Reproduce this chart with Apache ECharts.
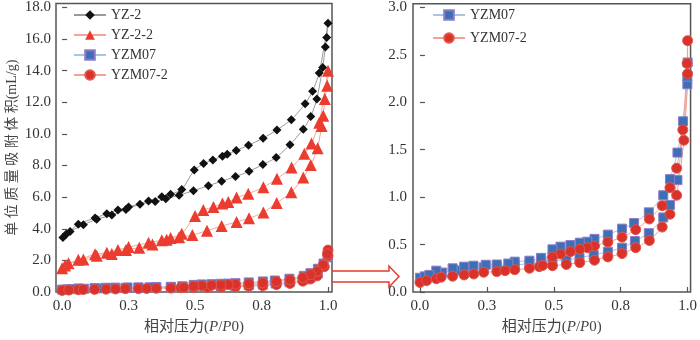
<!DOCTYPE html>
<html lang="zh-cn">
<head>
<meta charset="utf-8">
<title>吸附曲线</title>
<script src="https://cdn.jsdelivr.net/npm/echarts@6/dist/echarts.min.js"></script>
<style>
  html, body { margin: 0; padding: 0; background: #fff; }
  #chart { width: 700px; height: 340px; }
</style>
</head>
<body>
<div id="chart"></div>
<script>
// 数据：[P/P0, 体积]，吸附支在前，脱附支在后
var yz2 = [
  [0.003,3.45],[0.03,3.83],[0.08,4.25],[0.13,4.6],[0.187,4.87],[0.24,5.22],[0.293,5.55],
  [0.35,5.72],[0.39,5.9],[0.44,6.12],[0.494,6.41],[0.55,6.72],[0.6,7.01],[0.652,7.3],
  [0.703,7.63],[0.755,8.06],[0.805,8.5],[0.857,9.32],[0.907,10.3],[0.935,11.1],[0.958,12.2],
  [0.98,14.2],[0.99,15.5],[0.995,16.1],[1.0,17.0],
  [0.967,13.85],[0.942,12.7],[0.914,11.9],[0.862,10.9],[0.808,10.25],[0.756,9.73],[0.701,9.28],
  [0.655,8.95],[0.621,8.72],[0.603,8.58],[0.567,8.35],[0.532,8.12],[0.497,7.71],[0.45,6.48],
  [0.408,6.18],[0.375,6.02],[0.325,5.76],[0.25,5.38],[0.21,5.18],[0.168,4.95],[0.124,4.68],
  [0.061,4.29],[0.015,3.65]
];
var yz22 = [
  [0.0,1.5],[0.024,1.82],[0.08,2.05],[0.13,2.3],[0.187,2.4],[0.24,2.66],[0.29,2.8],[0.34,3.01],
  [0.393,3.3],[0.44,3.46],[0.49,3.6],[0.545,3.88],[0.6,4.17],[0.656,4.43],[0.703,4.66],
  [0.757,5.03],[0.807,5.63],[0.862,6.31],[0.907,7.24],[0.935,8.04],[0.961,9.1],[0.976,10.5],
  [0.982,11.15],[0.988,12.2],[0.997,13.05],[1.0,14.0],
  [0.967,10.7],[0.938,9.4],[0.911,8.75],[0.863,7.88],[0.808,7.16],[0.757,6.62],[0.70,6.22],
  [0.656,5.97],[0.625,5.69],[0.603,5.6],[0.569,5.38],[0.531,5.18],[0.5,4.8],[0.45,3.68],
  [0.408,3.42],[0.375,3.28],[0.325,3.11],[0.25,2.84],[0.21,2.66],[0.168,2.49],[0.124,2.38],
  [0.061,2.04],[0.011,1.67]
];
var yzm07 = [
  [0.0,0.15],[0.018,0.165],[0.083,0.205],[0.134,0.228],[0.177,0.242],[0.238,0.26],[0.287,0.27],
  [0.354,0.285],[0.409,0.3],[0.454,0.33],[0.495,0.33],[0.547,0.335],[0.596,0.363],[0.649,0.39],
  [0.702,0.425],[0.755,0.467],[0.803,0.537],[0.855,0.62],[0.909,0.786],[0.934,0.917],
  [0.962,1.18],[0.999,2.19],[1.0,2.42],
  [0.999,2.27],[0.983,1.8],[0.962,1.47],[0.934,1.19],[0.909,1.02],[0.855,0.84],[0.80,0.727],
  [0.755,0.668],[0.702,0.605],[0.652,0.56],[0.625,0.53],[0.597,0.52],[0.562,0.495],[0.525,0.478],
  [0.495,0.45],[0.452,0.36],[0.409,0.33],[0.354,0.32],[0.33,0.30],[0.287,0.29],[0.246,0.287],
  [0.2,0.277],[0.165,0.267],[0.122,0.25],[0.061,0.225],[0.035,0.18]
];
var yzm072 = [
  [0.0,0.10],[0.025,0.12],[0.061,0.14],[0.079,0.156],[0.122,0.166],[0.165,0.18],[0.201,0.19],
  [0.238,0.208],[0.287,0.215],[0.318,0.225],[0.354,0.235],[0.409,0.25],[0.446,0.267],
  [0.495,0.277],[0.547,0.29],[0.597,0.31],[0.652,0.335],[0.702,0.37],[0.755,0.405],[0.806,0.467],
  [0.857,0.543],[0.905,0.685],[0.934,0.82],[0.959,1.02],[0.986,1.6],[1.0,2.3],[1.0,2.65],
  [0.998,2.41],[0.982,1.71],[0.959,1.305],[0.934,1.1],[0.905,0.91],[0.857,0.77],[0.806,0.657],
  [0.755,0.578],[0.702,0.526],[0.652,0.485],[0.625,0.467],[0.597,0.45],[0.562,0.425],
  [0.525,0.40],[0.495,0.37],[0.458,0.28]
];
var xTicks = [0, 0.25, 0.5, 0.75, 1];
var yTicksL = [0, 2, 4, 6, 8, 10, 12, 14, 16, 18];
var yTicksR = [0, 0.5, 1, 1.5, 2, 2.5, 3];

var serif = "'Liberation Serif', 'Noto Sans CJK SC', serif";
var labelStyle = { fontFamily: serif, fontSize: 15, color: '#333' };
var tickStyle = { inside: true, length: 5, lineStyle: { color: '#555', width: 1.2 } };

function xAxisOf(idx, min, max) {
  return {
    type: 'value', gridIndex: idx, min: min, max: max,
    name: '相对压力({i|P}/{i|P}0)', nameLocation: 'middle', nameGap: 28,
    nameTextStyle: { fontFamily: serif, fontSize: 15, color: '#444',
      rich: { i: { fontFamily: serif, fontSize: 15, fontStyle: 'italic', color: '#444' } } },
    axisLine: { show: false },
    axisTick: Object.assign({ customValues: xTicks }, tickStyle),
    axisLabel: Object.assign({ customValues: xTicks, margin: 7,
      formatter: function (v) { return v.toFixed(1); } }, labelStyle),
    splitLine: { show: false }
  };
}

var blueStyle = { color: '#3b70b6', borderColor: '#8f7cc8', borderWidth: 1 };
var redStyle = { color: '#d8322a', borderColor: '#e0574c', borderWidth: 1 };

function mk(name, data, idx, sym, size, item, lineColor) {
  return {
    name: name, type: 'line', data: data, xAxisIndex: idx, yAxisIndex: idx,
    symbol: sym, symbolSize: size, showAllSymbol: true, smooth: 0.2,
    itemStyle: item, lineStyle: { color: lineColor, width: 1 }, animation: false
  };
}

var chart = echarts.init(document.getElementById('chart'));
var option = {
  backgroundColor: '#fff',
  grid: [
    { left: 56, right: 368, top: 2, bottom: 42, show: true, borderColor: '#555', borderWidth: 1.5 },
    { left: 413, right: 4, top: 2, bottom: 45, show: true, borderColor: '#555', borderWidth: 1.5 }
  ],
  legend: [
    { left: 73, top: 8, padding: 0, orient: 'vertical', itemWidth: 32, itemHeight: 12, itemGap: 6,
      textStyle: { fontFamily: serif, fontSize: 14, color: '#333' },
      data: ['YZ-2', 'YZ-2-2', 'YZM07', 'YZM07-2'] },
    { left: 432, top: 8, padding: 0, orient: 'vertical', itemWidth: 32, itemHeight: 12, itemGap: 9,
      textStyle: { fontFamily: serif, fontSize: 14, color: '#333' },
      data: ['YZM07', 'YZM07-2'] }
  ],
  xAxis: [xAxisOf(0, -0.023, 1.015), xAxisOf(1, -0.026, 1.011)],
  yAxis: [
    { type: 'value', gridIndex: 0, min: 0, max: 18.25,
      name: '单 位 质 量 吸 附 体 积(mL/g)', nameLocation: 'middle', nameGap: 37,
      nameTextStyle: { fontFamily: serif, fontSize: 14, color: '#444' },
      axisLine: { show: false },
      axisTick: Object.assign({ customValues: yTicksL }, tickStyle),
      axisLabel: Object.assign({ customValues: yTicksL, margin: 5,
        formatter: function (v) { return v.toFixed(1); } }, labelStyle),
      splitLine: { show: false } },
    { type: 'value', gridIndex: 1, min: 0, max: 3.04,
      axisLine: { show: false },
      axisTick: Object.assign({ customValues: yTicksR }, tickStyle),
      axisLabel: Object.assign({ customValues: yTicksR, margin: 6,
        formatter: function (v) { return v.toFixed(1); } }, labelStyle),
      splitLine: { show: false } }
  ],
  series: [
    mk('YZ-2', yz2, 0, 'diamond', 9, { color: '#111' }, '#9a9a9a'),
    mk('YZ-2-2', yz22, 0, 'triangle', 12, { color: '#ec3b2f' }, '#f6a494'),
    mk('YZM07', yzm07, 0, 'rect', 9, blueStyle, '#a9c3ea'),
    mk('YZM07-2', yzm072, 0, 'circle', 10, redStyle, '#f4a092'),
    mk('YZM07', yzm07, 1, 'rect', 9, blueStyle, '#a9c3ea'),
    mk('YZM07-2', yzm072, 1, 'circle', 10, redStyle, '#f4a092')
  ],
  graphic: [
    { type: 'polyline', silent: true,
      shape: { points: [[332, 271], [389, 271], [389, 266], [399, 276.5], [389, 287], [389, 282], [332, 282]] },
      style: { stroke: '#e63b2e', lineWidth: 1.5, fill: null } }
  ]
};
chart.setOption(option);
</script>
</body>
</html>
